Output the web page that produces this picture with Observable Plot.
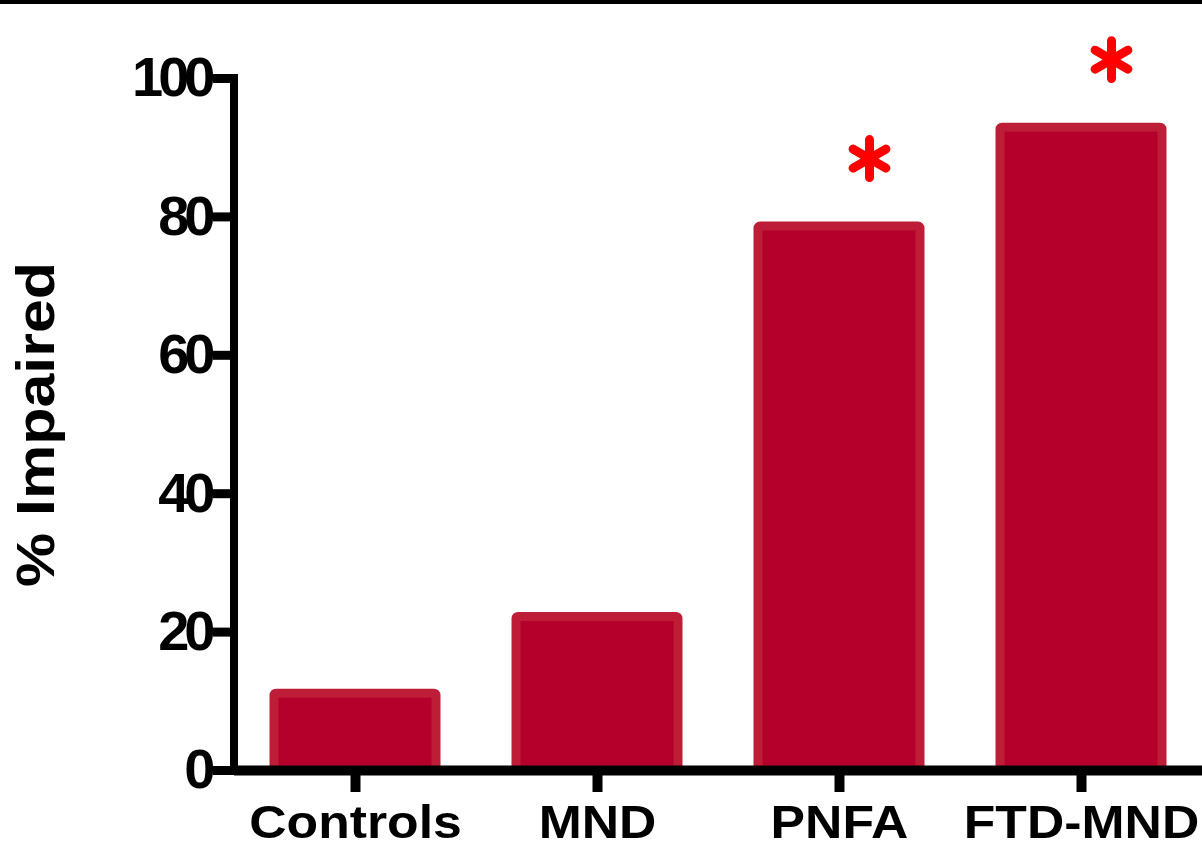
<!DOCTYPE html>
<html>
<head>
<meta charset="utf-8">
<script src="https://cdn.jsdelivr.net/npm/d3@7"></script>
<script src="https://cdn.jsdelivr.net/npm/@observablehq/plot@0.6"></script>
<style>
  html, body { margin: 0; padding: 0; background: #fff; }
  #wrap { position: relative; width: 1202px; height: 850px; overflow: hidden; }
  #topline { position: absolute; left: 0; top: 0; width: 1202px; height: 4px; background: #000; z-index: 2; }
  #chart svg { display: block; }
  g[aria-label="y-axis tick label"] text { letter-spacing: -5px; }
</style>
</head>
<body>
<div id="wrap"><div id="topline"></div><div id="chart"></div></div>
<script>
const categories = ["Controls", "MND", "PNFA", "FTD-MND"];
const impaired = [11.1, 22.2, 78.6, 92.9];
const significant = ["PNFA", "FTD-MND"];
const yTicks = [0, 20, 40, 60, 80, 100];
const yLabel = "% Impaired";

const rows = categories.map((c, i) => ({group: c, value: impaired[i]}));
const stars = rows.filter(d => significant.includes(d.group));

const yAxisLine = (index, scales, values, dimensions) => {
  const line = document.createElementNS("http://www.w3.org/2000/svg", "line");
  const x = dimensions.marginLeft;
  line.setAttribute("x1", x);
  line.setAttribute("x2", x);
  line.setAttribute("y1", scales.y(d3.max(yTicks)));
  line.setAttribute("y2", scales.y(0));
  line.setAttribute("stroke", "#000");
  line.setAttribute("stroke-width", 8);
  line.setAttribute("stroke-linecap", "square");
  return line;
};

const chart = Plot.plot({
  width: 1202,
  height: 850,
  marginLeft: 234,
  marginRight: 0,
  marginTop: 78,
  marginBottom: 80,
  style: {fontFamily: "'Liberation Sans', Arial, sans-serif", background: "#fff", overflow: "visible"},
  x: {type: "band", domain: categories, paddingInner: 0.33, paddingOuter: 0.165, axis: null},
  y: {domain: [0, 100], axis: null},
  marks: [
    Plot.barY(rows, {x: "group", y: "value", fill: "#b4002a", stroke: "#be1d37", strokeWidth: 9, rx: 2}),
    Plot.ruleY([0], {stroke: "#000", strokeWidth: 10}),
    yAxisLine,
    Plot.axisY({ticks: yTicks, tickSize: 21, tickPadding: 3, strokeWidth: 9, stroke: "#000", fontSize: 56, fontWeight: "bold", fill: "#000", label: null}),
    Plot.axisX({tickSize: 22, tickPadding: 12, strokeWidth: 10, stroke: "#000", fontSize: 47, fontWeight: "bold", fill: "#000", label: null}),
    Plot.dot(stars, {x: "group", y: "value", symbol: "asterisk", r: 18, stroke: "#ff0000", strokeWidth: 9, strokeLinecap: "round", dx: 30, dy: -68}),
    Plot.text([yLabel], {frameAnchor: "left", rotate: -90, dx: -197, textAnchor: "middle", lineAnchor: "middle", fontSize: 53, fontWeight: "bold", fill: "#000", className: "ylab"})
  ]
});
document.getElementById("chart").appendChild(chart);

// horizontal stretch of the text to match the reference lettering
function stretch(selector, factor) {
  chart.querySelectorAll(selector).forEach(t => {
    const len = t.getComputedTextLength();
    t.setAttribute("textLength", len * factor);
    t.setAttribute("lengthAdjust", "spacingAndGlyphs");
  });
}
stretch('g[aria-label="x-axis tick label"] text', 1.1);
stretch('g.ylab text', 1.15);
</script>
</body>
</html>
